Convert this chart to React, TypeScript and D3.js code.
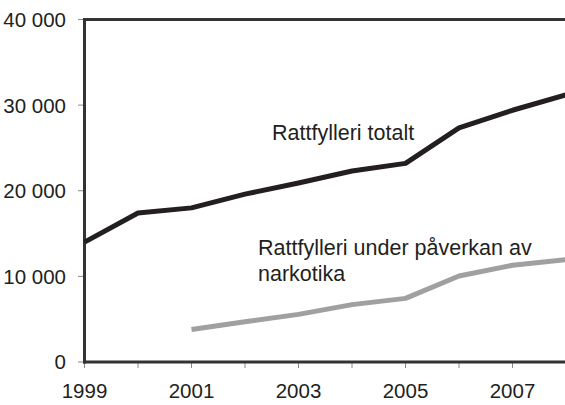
import React from "react";
import * as d3 from "d3";

const years = [1999, 2000, 2001, 2002, 2003, 2004, 2005, 2006, 2007, 2008];
const totalValues = [14000, 17400, 18000, 19600, 20900, 22300, 23200, 27350, 29400, 31200];
const drugYears = [2001, 2002, 2003, 2004, 2005, 2006, 2007, 2008];
const drugValues = [3800, 4700, 5560, 6700, 7430, 10040, 11300, 11950];
const yTicks = [0, 10000, 20000, 30000, 40000];
const xLabelYears = [1999, 2001, 2003, 2005, 2007];
const labelTotal = "Rattfylleri totalt";
const labelDrugLines = ["Rattfylleri under påverkan av", "narkotika"];

const W = 565;
const H = 405;
const FONT = "'Liberation Sans', Arial, sans-serif";
const TEXT = "#231f20";

export default function App() {
  const x = d3.scaleLinear().domain([1999, 2008]).range([84.5, 566]);
  const y = d3.scaleLinear().domain([0, 40000]).range([362, 19.5]);
  const fmt = (v: number) => d3.format(",")(v).replace(/,/g, " ");

  const line = d3
    .line<[number, number]>()
    .x((d) => x(d[0]))
    .y((d) => y(d[1]));

  const totalPts = years.map((yr, i) => [yr, totalValues[i]] as [number, number]);
  const drugPts = drugYears.map((yr, i) => [yr, drugValues[i]] as [number, number]);

  return (
    <svg
      width={W}
      height={H}
      style={{ position: "absolute", left: 0, top: 0, background: "#fff" }}
      fontFamily={FONT}
    >
      {yTicks.map((t) => (
        <g key={t}>
          <line x1={78} x2={84} y1={y(t)} y2={y(t)} stroke="#8a8a8a" strokeWidth={1} />
          <text x={66} y={y(t)} dy="0.36em" textAnchor="end" fontSize={20.5} fill={TEXT}>
            {fmt(t)}
          </text>
        </g>
      ))}
      {years.map((yr) => (
        <line key={yr} x1={x(yr)} x2={x(yr)} y1={362} y2={368} stroke="#8a8a8a" strokeWidth={1} />
      ))}
      {xLabelYears.map((yr) => (
        <text key={yr} x={x(yr)} y={398} textAnchor="middle" fontSize={20.5} fill={TEXT}>
          {yr}
        </text>
      ))}
      <line x1={84.5} x2={W} y1={y(40000)} y2={y(40000)} stroke="#333" strokeWidth={3} />
      <line x1={84.5} x2={84.5} y1={y(40000) - 1.5} y2={363.5} stroke="#333" strokeWidth={3} />
      <line x1={83} x2={W} y1={362} y2={362} stroke="#333" strokeWidth={3} />
      <path d={line(drugPts) || ""} fill="none" stroke="#a0a0a0" strokeWidth={5} strokeLinejoin="round" />
      <path d={line(totalPts) || ""} fill="none" stroke="#231f20" strokeWidth={5} strokeLinejoin="round" />
      <text x={272} y={140} fontSize={21.5} fill={TEXT}>
        {labelTotal}
      </text>
      {labelDrugLines.map((s, i) => (
        <text key={i} x={258} y={255 + i * 26} fontSize={21.5} fill={TEXT}>
          {s}
        </text>
      ))}
    </svg>
  );
}
